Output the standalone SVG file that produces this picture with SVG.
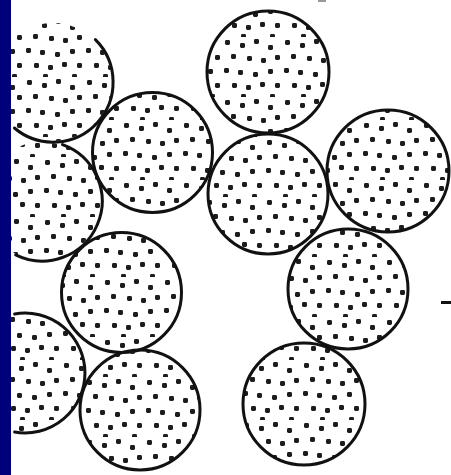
<svg xmlns="http://www.w3.org/2000/svg" xmlns:xlink="http://www.w3.org/1999/xlink" width="451" height="475" viewBox="0 0 451 475">
<style>
.ring{fill:none;stroke:#111;stroke-width:3;stroke-linecap:round}
.dot{fill:#1c1c1c}
</style>
<defs>
<pattern id="d1" patternUnits="userSpaceOnUse" width="60" height="60">
<rect class="dot" x="4" y="3" width="5" height="5" rx="1.4"/>
<rect class="dot" x="19" y="6" width="5" height="5" rx="1.4"/>
<rect class="dot" x="33" y="2" width="5" height="5" rx="1.4"/>
<rect class="dot" x="47" y="8" width="5" height="5" rx="1.4"/>
<rect class="dot" x="10" y="17" width="5" height="5" rx="1.4"/>
<rect class="dot" x="26" y="19" width="5" height="5" rx="1.4"/>
<rect class="dot" x="40" y="21" width="5" height="5" rx="1.4"/>
<rect class="dot" x="54" y="18" width="5" height="5" rx="1.4"/>
<rect class="dot" x="3" y="31" width="5" height="5" rx="1.4"/>
<rect class="dot" x="17" y="33" width="5" height="5" rx="1.4"/>
<rect class="dot" x="32" y="35" width="5" height="5" rx="1.4"/>
<rect class="dot" x="47" y="32" width="5" height="5" rx="1.4"/>
<rect class="dot" x="11" y="46" width="5" height="5" rx="1.4"/>
<rect class="dot" x="25" y="48" width="5" height="5" rx="1.4"/>
<rect class="dot" x="39" y="45" width="5" height="5" rx="1.4"/>
<rect class="dot" x="54" y="46" width="5" height="5" rx="1.4"/>
<rect class="dot" x="20" y="57" width="5" height="5" rx="1.4"/>
<rect class="dot" x="49" y="57" width="5" height="5" rx="1.4"/>
</pattern>
<pattern id="d2" href="#d1" xlink:href="#d1" patternTransform="translate(23 17)"/>
<pattern id="d3" href="#d1" xlink:href="#d1" patternTransform="translate(41 37)"/>
</defs>
<g id="circle1">
<circle cx="53" cy="82" r="59" fill="url(#d2)"/>
<path class="ring" d="M95.4 39.6 A60 60 0 0 1 14.4 128"/>
</g>
<g id="circle6">
<circle cx="42" cy="201" r="59" fill="url(#d3)"/>
<path class="ring" d="M62.5 144.6 A60 60 0 1 1 15.7 254.9"/>
</g>
<g id="circle9">
<circle cx="25" cy="373" r="59" fill="url(#d1)"/>
<path class="ring" d="M14.6 313.9 A60 60 0 1 1 14.6 432.1"/>
</g>
<g id="circle2">
<circle cx="152.5" cy="152.5" r="60" fill="url(#d1)"/>
<circle class="ring" cx="152.5" cy="152.5" r="60"/>
</g>
<g id="circle3">
<circle cx="268" cy="72" r="61" fill="url(#d3)"/>
<circle class="ring" cx="268" cy="72" r="61"/>
</g>
<g id="circle4">
<circle cx="268" cy="194" r="60" fill="url(#d2)"/>
<circle class="ring" cx="268" cy="194" r="60"/>
</g>
<g id="circle5">
<circle cx="388" cy="171" r="61" fill="url(#d1)"/>
<circle class="ring" cx="388" cy="171" r="61"/>
</g>
<g id="circle7">
<circle cx="121.5" cy="292.5" r="60" fill="url(#d3)"/>
<circle class="ring" cx="121.5" cy="292.5" r="60"/>
</g>
<g id="circle8">
<circle cx="348" cy="289" r="60" fill="url(#d2)"/>
<circle class="ring" cx="348" cy="289" r="60"/>
</g>
<g id="circle10">
<circle cx="140" cy="410" r="60" fill="url(#d2)"/>
<circle class="ring" cx="140" cy="410" r="60"/>
</g>
<g id="circle11">
<circle cx="304" cy="404" r="61" fill="url(#d1)"/>
<circle class="ring" cx="304" cy="404" r="61"/>
</g>
<g id="marks">
<line x1="441" y1="302.5" x2="451" y2="302.5" stroke="#111" stroke-width="3"/>
<line x1="318" y1="1" x2="326" y2="1" stroke="#999" stroke-width="2"/>
</g>
<rect id="strip" x="0" y="0" width="11" height="475" fill="#00007a"/>
</svg>
